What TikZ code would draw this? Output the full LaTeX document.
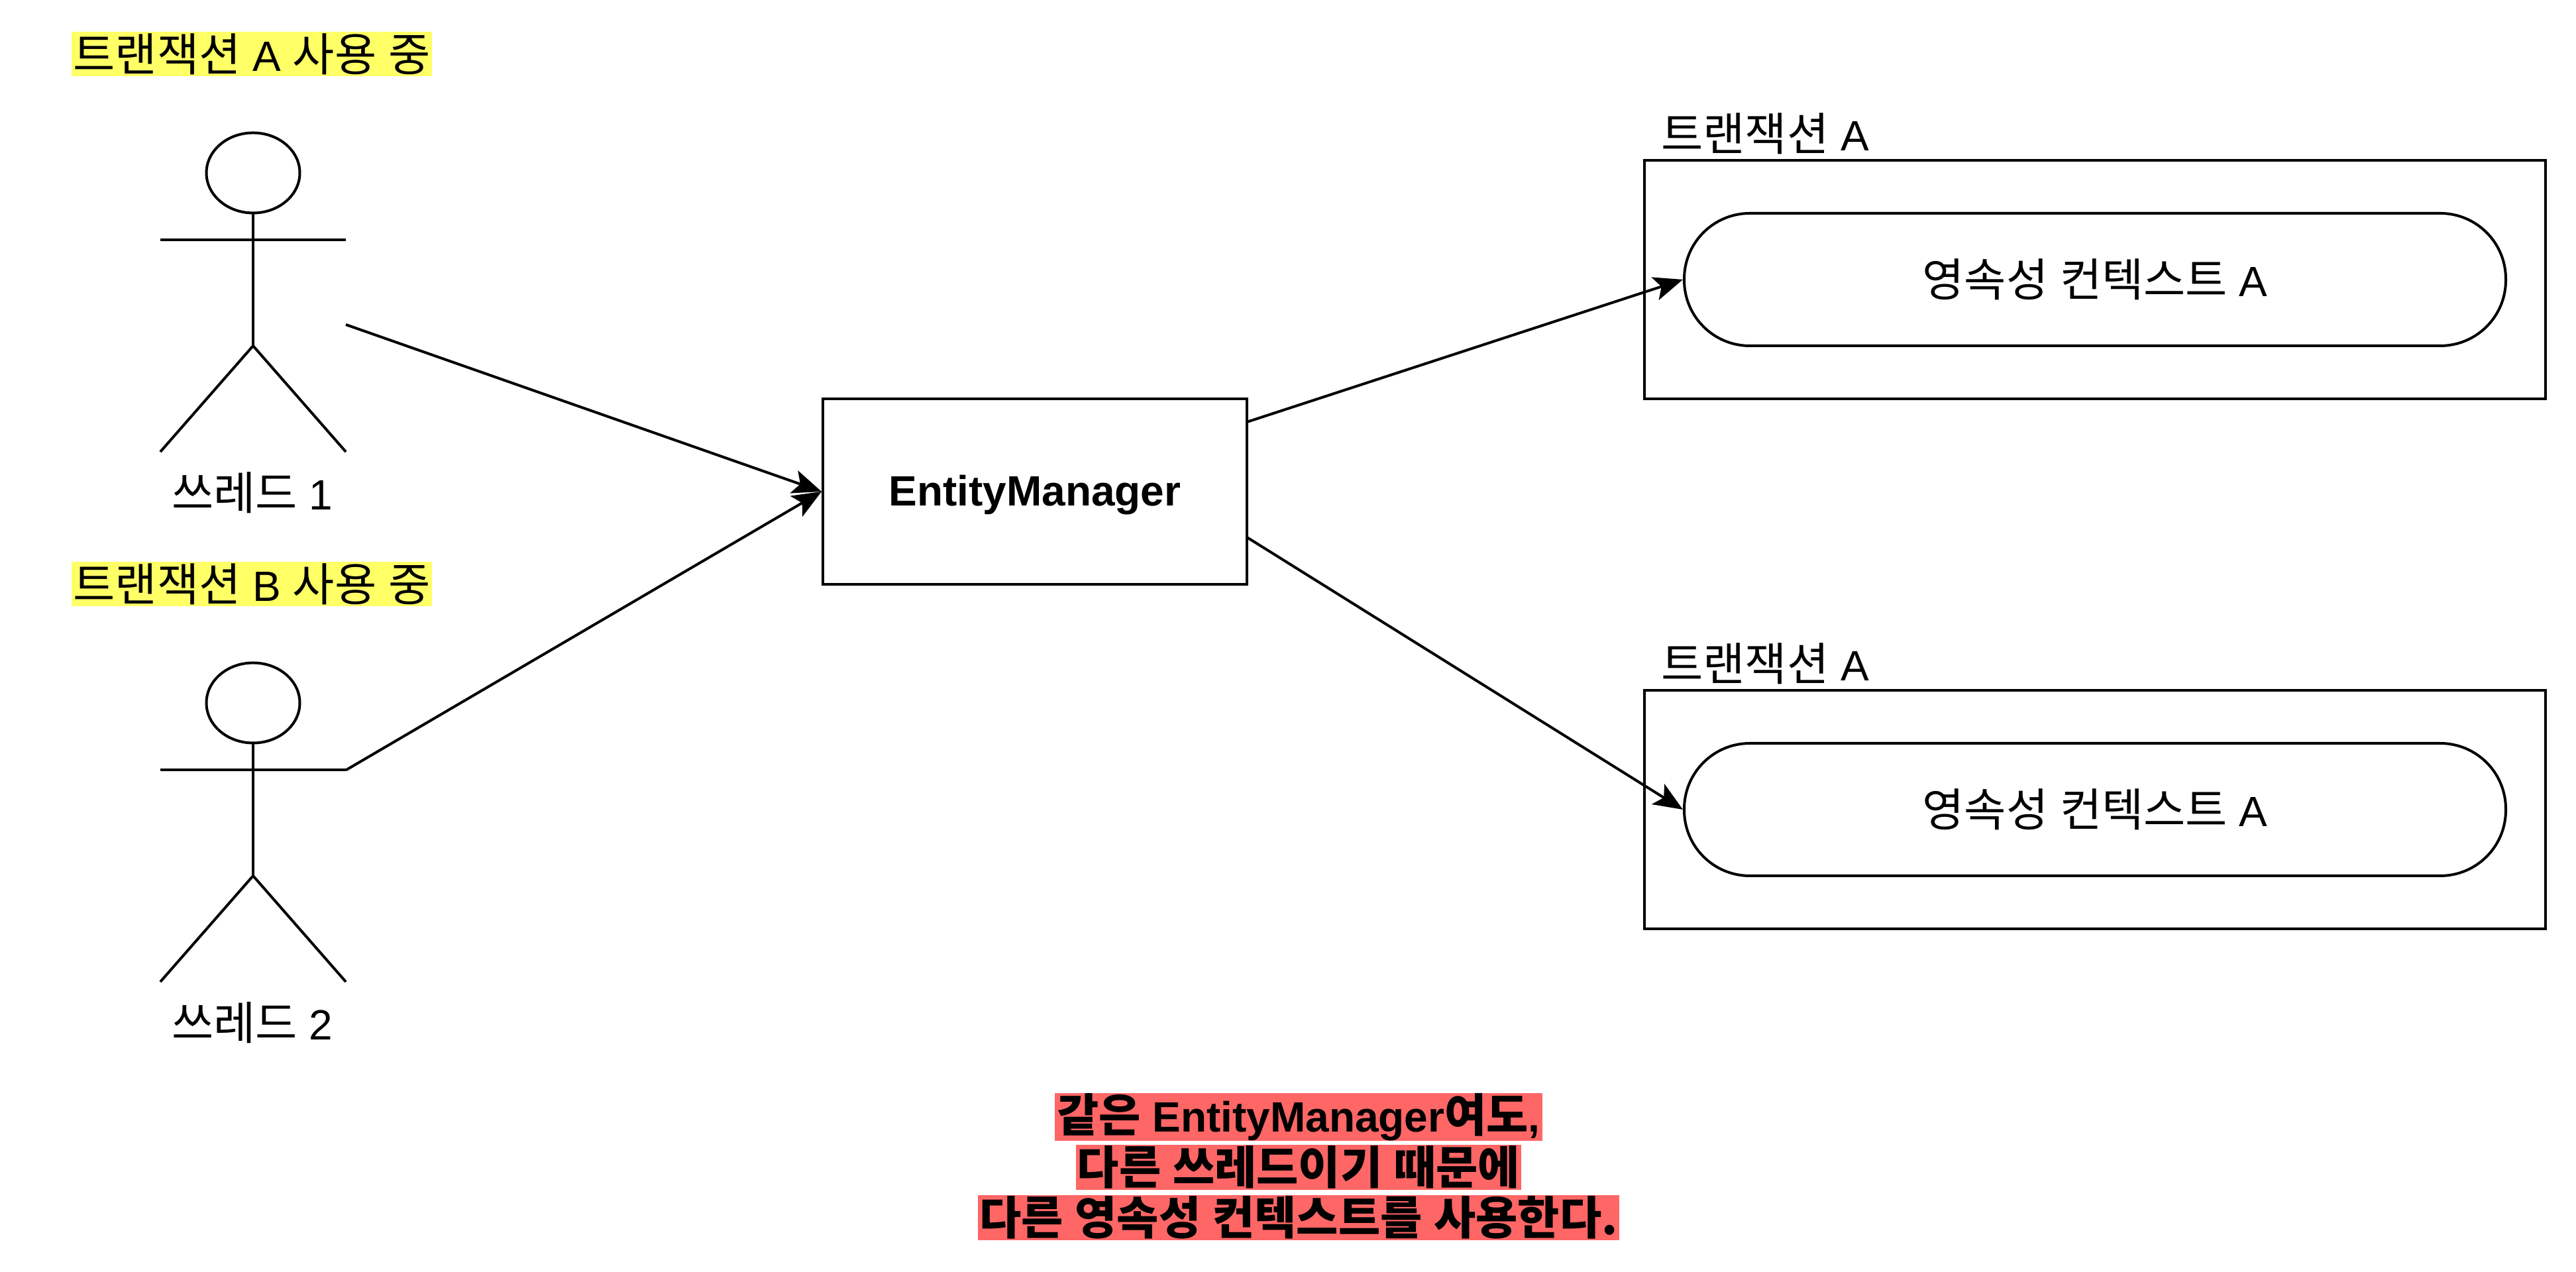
\documentclass[tikz,border=0pt]{standalone}
\usepackage{fontspec}
\usetikzlibrary{arrows.meta}
\setmainfont{Liberation Sans}
\newfontfamily\krfont[Scale=1.075]{Noto Sans CJK KR}
\newcommand{\kr}[1]{{\krfont #1}}
\definecolor{hlyellow}{HTML}{FFFF66}
\definecolor{hlred}{HTML}{FF6666}

\begin{document}
\begin{tikzpicture}[
	line width=0.04cm,
	every node/.style={font=\fontsize{18.2}{22}\selectfont, inner sep=0pt},
	box/.style={draw, minimum width=#1},
	pill/.style={draw, rounded corners=0.99cm, minimum width=12.4cm, minimum height=2cm},
	hlnote/.style={fill=hlyellow, minimum width=5.44cm, minimum height=0.67cm},
	hlwarn/.style={fill=hlred, minimum width=#1, minimum height=0.68cm, font=\fontsize{18.2}{22}\selectfont\bfseries},
	conn/.style={-{Stealth[length=0.44cm,width=0.36cm,inset=0.1cm]}}
]
	\useasboundingbox (0,0) rectangle (38.88,19.2);

	% threads
	\node[hlnote] (noteA) at (3.80,18.385) {\kr{트랜잭션} A \kr{사용} \kr{중}};
	\draw (3.82,16.59) ellipse (0.705 and 0.605);
	\draw (3.82,15.985)--(3.82,13.98);
	\draw (2.42,15.575)--(5.22,15.575);
	\draw (2.42,12.38)--(3.82,13.98)--(5.22,12.38);
	\node (threadA) at (3.81,11.76) {\kr{쓰레드} 1};
	\coordinate (handA) at (5.22,14.30);

	\node[hlnote] (noteB) at (3.80,10.385) {\kr{트랜잭션} B \kr{사용} \kr{중}};
	\draw (3.82,8.59) ellipse (0.705 and 0.605);
	\draw (3.82,7.985)--(3.82,5.98);
	\draw (2.42,7.575)--(5.22,7.575);
	\draw (2.42,4.38)--(3.82,5.98)--(5.22,4.38);
	\node (threadB) at (3.81,3.76) {\kr{쓰레드} 2};
	\coordinate (handB) at (5.22,7.575);

	% manager
	\node[box=6.4cm, minimum height=2.8cm, text depth=0.03cm, font=\fontsize{18.2}{22}\selectfont\bfseries] (em) at (15.62,11.78) {EntityManager};
	\coordinate (emTop) at (18.82,12.83);
	\coordinate (emBot) at (18.82,11.09);

	% transactions
	\node[box=13.6cm, minimum height=3.6cm] (txA) at (31.62,14.98) {};
	\node[pill] (pcA) at (31.62,14.98) {\kr{영속성} \kr{컨텍스트} A};
	\node (txlabelA) at (26.64,17.18) {\kr{트랜잭션} A};

	\node[box=13.6cm, minimum height=3.6cm] (txB) at (31.62,6.98) {};
	\node[pill] (pcB) at (31.62,6.98) {\kr{영속성} \kr{컨텍스트} A};
	\node (txlabelB) at (26.64,9.18) {\kr{트랜잭션} A};

	% connectors
	\draw[conn] (handA)--(em.west);
	\draw[conn] (handB)--(em.west);
	\draw[conn] (emTop)--(pcA.west);
	\draw[conn] (emBot)--(pcB.west);

	% remark
	\node[hlwarn=7.36cm] (warnA) at (19.6,2.34) {\kr{같은} EntityManager\kr{여도},};
	\node[hlwarn=6.72cm] (warnB) at (19.6,1.58) {\kr{다른} \kr{쓰레드이기} \kr{때문에}};
	\node[hlwarn=9.68cm] (warnC) at (19.6,0.82) {\kr{다른} \kr{영속성} \kr{컨텍스트를} \kr{사용한다.}};
\end{tikzpicture}
\end{document}
